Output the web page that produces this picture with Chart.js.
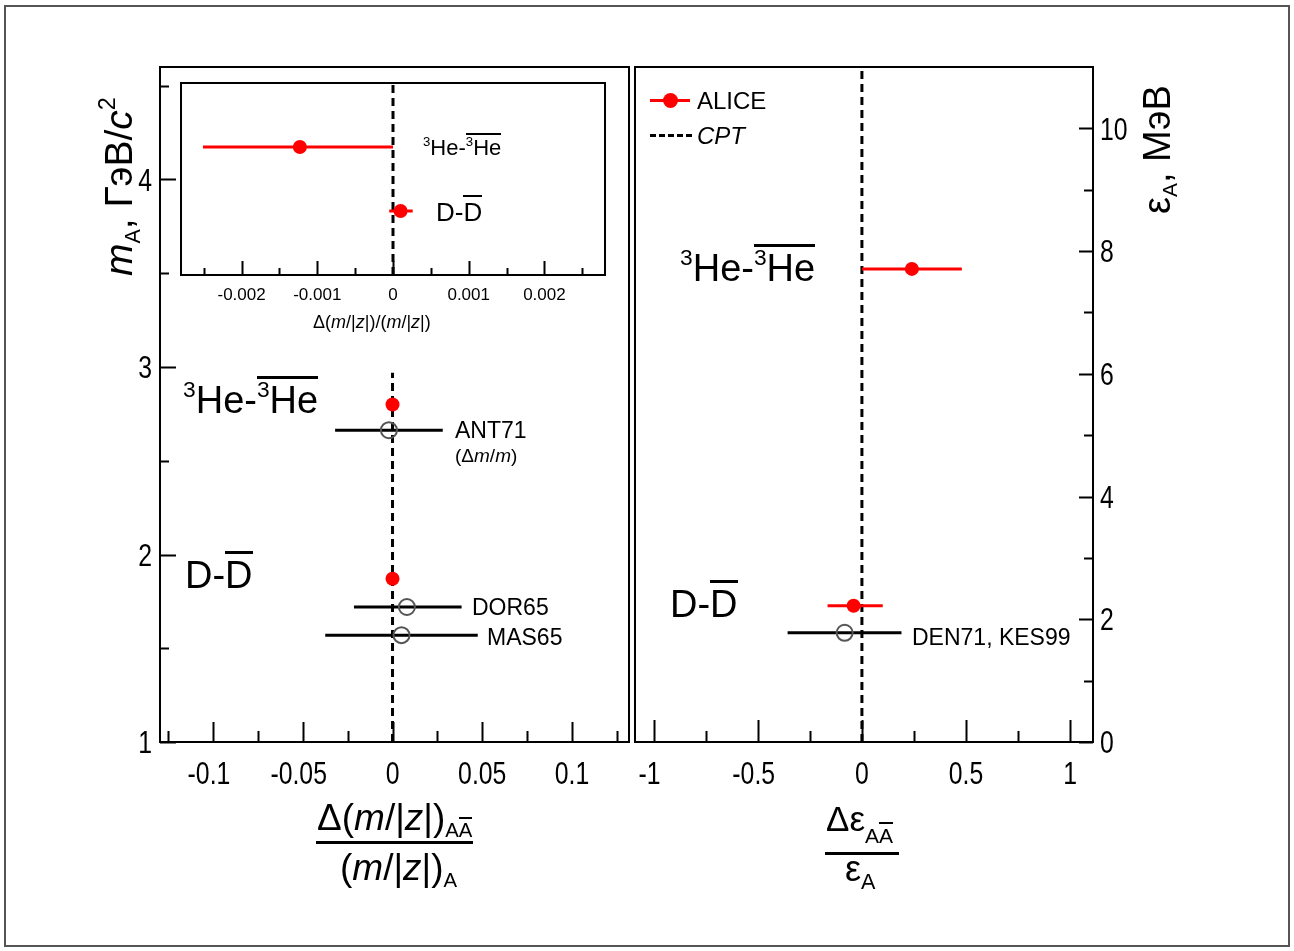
<!DOCTYPE html>
<html>
<head>
<meta charset="utf-8">
<script src="https://cdn.jsdelivr.net/npm/chart.js@4"></script>
<style>
body{margin:0;background:#fff;width:1294px;height:951px;overflow:hidden;position:relative;font-family:"Liberation Sans",Arial,sans-serif;}
#frame{position:absolute;left:4px;top:5px;width:1282px;height:938px;border:2px solid #555;}
canvas{position:absolute;}
.lbl{position:absolute;white-space:nowrap;color:#000;line-height:1;}
.lbl sup{font-size:0.6em;vertical-align:0.72em;line-height:0;}
.lbl sub{font-size:0.55em;vertical-align:-0.35em;line-height:0;}
.ov{border-top:3px solid #000;}
.ovs{border-top:2px solid #000;}
.rot{transform-origin:0 0;transform:rotate(-90deg);}
</style>
</head>
<body>
<div id="frame"></div>
<canvas id="leftChart" width="532" height="740" style="left:100px;top:60px"></canvas>
<canvas id="insetChart" width="445" height="229" style="left:170px;top:76px"></canvas>
<canvas id="rightChart" width="548" height="740" style="left:620px;top:60px"></canvas>

<!-- подписи левой панели -->
<div class="lbl" style="left:183px;top:381px;font-size:38px"><sup>3</sup>He-<span class="ov"><sup>3</sup>He</span></div>
<div class="lbl" style="left:185px;top:556px;font-size:38px">D-<span class="ov">D</span></div>
<div class="lbl" style="left:455px;top:419px;font-size:23px">ANT71</div>
<div class="lbl" style="left:455px;top:446px;font-size:19px">(Δ<i>m</i>/<i>m</i>)</div>
<div class="lbl" style="left:472px;top:596px;font-size:23px">DOR65</div>
<div class="lbl" style="left:487px;top:626px;font-size:23px">MAS65</div>

<!-- подписи вставки -->
<div class="lbl" style="left:423px;top:137px;font-size:22px"><sup>3</sup>He-<span class="ovs"><sup>3</sup>He</span></div>
<div class="lbl" style="left:436px;top:199px;font-size:26px">D-<span class="ovs">D</span></div>
<div class="lbl" style="left:313px;top:313px;font-size:18px">Δ(<i>m</i>/|<i>z</i>|)/(<i>m</i>/|<i>z</i>|)</div>

<!-- подписи правой панели -->
<div class="lbl" style="left:680px;top:249px;font-size:38px"><sup>3</sup>He-<span class="ov"><sup>3</sup>He</span></div>
<div class="lbl" style="left:670px;top:585px;font-size:38px">D-<span class="ov">D</span></div>
<div class="lbl" style="left:912px;top:626px;font-size:23px">DEN71, KES99</div>

<!-- легенда -->
<div style="position:absolute;left:650px;top:99px;width:40px;height:3px;background:#f00"></div>
<div style="position:absolute;left:663px;top:93px;width:15px;height:15px;border-radius:50%;background:#f00"></div>
<div class="lbl" style="left:697px;top:89px;font-size:24px">ALICE</div>
<div style="position:absolute;left:650px;top:134px;width:42px;height:0;border-top:3px dashed #000"></div>
<div class="lbl" style="left:697px;top:124px;font-size:24px"><i>CPT</i></div>

<!-- оси -->
<div class="lbl rot" style="left:99px;top:276px;font-size:39px"><i>m</i><sub>A</sub>, ГэВ/<i>c</i><sup>2</sup></div>
<div class="lbl rot" style="left:1138px;top:214px;font-size:38px">ε<sub>A</sub>, МэВ</div>

<div class="lbl" style="left:317px;top:799px;font-size:37px">Δ(<i>m</i>/|<i>z</i>|)<sub>A<span class="ovs">A</span></sub></div>
<div style="position:absolute;left:316px;top:841px;width:157px;height:3px;background:#000"></div>
<div class="lbl" style="left:340px;top:849px;font-size:37px">(<i>m</i>/|<i>z</i>|)<sub>A</sub></div>

<div class="lbl" style="left:826px;top:801px;font-size:35px">Δε<sub style="font-size:0.6em;vertical-align:-0.55em">A<span class="ovs">A</span></sub></div>
<div style="position:absolute;left:825px;top:852px;width:74px;height:3px;background:#000"></div>
<div class="lbl" style="left:845px;top:851px;font-size:36px">ε<sub style="font-size:0.6em">A</sub></div>

<script>
// левая панель: Δ(m/|z|)/(m/|z|) по массе ядра
var aliceMassX = [0.0, 0.0];
var aliceMassY = [2.80, 1.871];

// старые измерения (ANT71, DOR65, MAS65)
var refMassX = [-0.002, 0.008, 0.005];
var refMassLo = [-0.032, -0.0215, -0.0375];
var refMassHi = [0.028, 0.0385, 0.0475];
var refMassY = [2.663, 1.72, 1.57];

// вставка: ALICE крупно (3He, D)
var insetX = [-0.00123, 0.0001];
var insetLo = [-0.00251, -0.00005];
var insetHi = [0.0, 0.00026];
var insetY = [2, 1];

// правая панель: Δε/ε по энергии связи
var aliceEpsX = [0.24, -0.04];
var aliceEpsLo = [0.0, -0.165];
var aliceEpsHi = [0.48, 0.10];
var aliceEpsY = [7.71, 2.22];

// DEN71, KES99
var refEpsX = [-0.083];
var refEpsLo = [-0.357];
var refEpsHi = [0.19];
var refEpsY = [1.78];

// деления осей
var leftXTicks = [-0.1, -0.05, 0, 0.05, 0.1];
var leftXMinor = [-0.125, -0.075, -0.025, 0.025, 0.075, 0.125];
var leftYTicks = [1, 2, 3, 4];
var leftYMinor = [1.5, 2.5, 3.5, 4.5];
var insetXTicks = [-0.002, -0.001, 0, 0.001, 0.002];
var insetXMinor = [-0.0025, -0.0015, -0.0005, 0.0005, 0.0015, 0.0025];
var rightXTicks = [-1, -0.5, 0, 0.5, 1];
var rightXMinor = [-0.75, -0.25, 0.25, 0.75];
var rightYTicks = [0, 2, 4, 6, 8, 10];
var rightYMinor = [1, 3, 5, 7, 9];

var RED = '#ff0000';

function fmt(v) {
    return String(v);
}

// рамка, внутренние засечки и узкие подписи как в ROOT
var rootFrame = {
    id: 'rootFrame',
    beforeDraw: function(chart) {
        var a = chart.chartArea, ctx = chart.ctx;
        ctx.save();
        ctx.fillStyle = '#fff';
        ctx.fillRect(a.left, a.top, a.right - a.left, a.bottom - a.top);
        ctx.restore();
    },
    afterDraw: function(chart, args, o) {
        var a = chart.chartArea, ctx = chart.ctx;
        var sx = chart.scales.x, sy = chart.scales.y;
        ctx.save();
        ctx.strokeStyle = '#000';
        ctx.lineWidth = 2;
        ctx.beginPath();
        function xt(list, len) {
            list.forEach(function(v) {
                var px = Math.round(sx.getPixelForValue(v)) + 0.5;
                ctx.moveTo(px, a.bottom);
                ctx.lineTo(px, a.bottom - len);
            });
        }
        function yt(list, len) {
            list.forEach(function(v) {
                var py = Math.round(sy.getPixelForValue(v)) + 0.5;
                if (o.ySide == 'left') {
                    ctx.moveTo(a.left, py);
                    ctx.lineTo(a.left + len, py);
                } else {
                    ctx.moveTo(a.right, py);
                    ctx.lineTo(a.right - len, py);
                }
            });
        }
        xt(o.xMajor, o.xLen[0]);
        xt(o.xMinor, o.xLen[1]);
        if (o.ySide) {
            yt(o.yMajor, o.yLen[0]);
            yt(o.yMinor, o.yLen[1]);
        }
        ctx.stroke();
        ctx.strokeRect(a.left, a.top, a.right - a.left, a.bottom - a.top);

        // узкие подписи делений (сжатие по горизонтали)
        if (o.labels) {
            var L = o.labels;
            ctx.fillStyle = '#000';
            ctx.font = L.size + 'px "Liberation Sans", Arial, sans-serif';
            ctx.textBaseline = 'alphabetic';
            o.xMajor.forEach(function(v) {
                var px = sx.getPixelForValue(v);
                var t = fmt(v);
                var w = ctx.measureText(t).width;
                ctx.save();
                ctx.translate(px, a.bottom + L.xBase);
                ctx.scale(L.squeeze, 1);
                // центр по числу без минуса
                var shift = v < 0 ? ctx.measureText('-').width / 2 : 0;
                ctx.fillText(t, -w / 2 - shift, 0);
                ctx.restore();
            });
            o.yMajor.forEach(function(v) {
                var py = sy.getPixelForValue(v);
                var t = fmt(v);
                var w = ctx.measureText(t).width;
                ctx.save();
                if (o.ySide == 'left') {
                    ctx.translate(a.left - L.yPad, py + L.size * 0.36);
                    ctx.scale(L.squeeze, 1);
                    ctx.fillText(t, -w, 0);
                } else {
                    ctx.translate(a.right + L.yPad, py + L.size * 0.36);
                    ctx.scale(L.squeeze, 1);
                    ctx.fillText(t, 0, 0);
                }
                ctx.restore();
            });
        }
        ctx.restore();
    }
};

function noPad(s) {
    s.paddingTop = 0;
    s.paddingBottom = 0;
    s.paddingLeft = 0;
    s.paddingRight = 0;
}

// отрезки ошибок из массивов
function errorBars(xs, lo, hi, ys, color, width) {
    var out = [];
    for (var i = 0; i < xs.length; i++) {
        out.push({
            data: [{x: lo[i], y: ys[i]}, {x: hi[i], y: ys[i]}],
            showLine: true,
            borderColor: color,
            borderWidth: width,
            pointRadius: 0,
            order: 2
        });
    }
    return out;
}

function points(xs, ys) {
    return xs.map(function(x, i) { return {x: x, y: ys[i]}; });
}

function cptLine(y0, y1) {
    return {
        data: [{x: 0, y: y0}, {x: 0, y: y1}],
        showLine: true,
        borderColor: '#000',
        borderWidth: 3,
        borderDash: [8, 5],
        pointRadius: 0,
        order: 3
    };
}

function aliceSet(xs, ys, r) {
    return {
        data: points(xs, ys),
        pointRadius: r,
        pointBackgroundColor: RED,
        pointBorderColor: RED,
        pointBorderWidth: 0,
        order: 0
    };
}

function refSet(xs, ys) {
    return {
        data: points(xs, ys),
        pointRadius: 8,
        pointBackgroundColor: 'rgba(0,0,0,0)',
        pointBorderColor: '#555',
        pointBorderWidth: 2,
        order: 1
    };
}

function xAxis(min, max, ticks, h, labels) {
    return {
        type: 'linear', min: min, max: max,
        grid: {display: false}, border: {display: false},
        afterBuildTicks: function(s) { s.ticks = ticks.map(function(v) { return {value: v}; }); },
        afterFit: function(s) { s.height = h; noPad(s); },
        ticks: labels ? {display: true, font: {family: '"Liberation Sans", sans-serif', size: 17},
                         color: '#000', padding: 2, maxRotation: 0, autoSkip: false, callback: fmt}
                      : {display: false}
    };
}

function yAxis(min, max, ticks, pos, w, show) {
    return {
        type: 'linear', position: pos, min: min, max: max, display: show,
        grid: {display: false}, border: {display: false},
        afterBuildTicks: function(s) { s.ticks = ticks.map(function(v) { return {value: v}; }); },
        afterFit: function(s) { s.width = w; noPad(s); },
        ticks: {display: false}
    };
}

var common = {
    responsive: false,
    animation: false,
    events: [],
    plugins: {legend: {display: false}, tooltip: {enabled: false}}
};

// левая панель
new Chart(document.getElementById('leftChart'), {
    type: 'scatter',
    data: {
        datasets: [
            aliceSet(aliceMassX, aliceMassY, 7),
            refSet(refMassX, refMassY)
        ].concat(errorBars(refMassX, refMassLo, refMassHi, refMassY, '#000', 3))
         .concat([cptLine(1, 2.97)])
    },
    options: Object.assign({}, common, {
        layout: {autoPadding: false, padding: {top: 7, right: 3, left: 0, bottom: 0}},
        scales: {
            x: xAxis(-0.1296, 0.1318, leftXTicks, 58, false),
            y: yAxis(1, 4.6, leftYTicks, 'left', 60, true)
        },
        plugins: Object.assign({}, common.plugins, {
            rootFrame: {xMajor: leftXTicks, xMinor: leftXMinor, xLen: [20, 11],
                        yMajor: leftYTicks, yMinor: leftYMinor, yLen: [16, 9], ySide: 'left',
                        labels: {size: 31, squeeze: 0.8, xBase: 42, yPad: 8}}
        })
    }),
    plugins: [rootFrame]
});

// вставка
new Chart(document.getElementById('insetChart'), {
    type: 'scatter',
    data: {
        datasets: [aliceSet(insetX, insetY, 7)]
            .concat(errorBars(insetX, insetLo, insetHi, insetY, RED, 3))
            .concat([cptLine(0, 3)])
    },
    options: Object.assign({}, common, {
        layout: {autoPadding: false, padding: {top: 7, right: 10, left: 11, bottom: 0}},
        scales: {
            x: xAxis(-0.0028, 0.0028, insetXTicks, 30, true),
            y: yAxis(0, 3, [], 'left', 0, false)
        },
        plugins: Object.assign({}, common.plugins, {
            rootFrame: {xMajor: insetXTicks, xMinor: insetXMinor, xLen: [14, 7],
                        yMajor: [], yMinor: [], yLen: [0, 0], ySide: null}
        })
    }),
    plugins: [rootFrame]
});

// правая панель
new Chart(document.getElementById('rightChart'), {
    type: 'scatter',
    data: {
        datasets: [
            aliceSet(aliceEpsX, aliceEpsY, 7),
            refSet(refEpsX, refEpsY)
        ].concat(errorBars(aliceEpsX, aliceEpsLo, aliceEpsHi, aliceEpsY, RED, 3))
         .concat(errorBars(refEpsX, refEpsLo, refEpsHi, refEpsY, '#000', 3))
         .concat([cptLine(0, 11)])
    },
    options: Object.assign({}, common, {
        layout: {autoPadding: false, padding: {top: 7, right: 0, left: 15, bottom: 0}},
        scales: {
            x: xAxis(-1.09, 1.11, rightXTicks, 58, false),
            y: yAxis(0, 11, rightYTicks, 'right', 75, true)
        },
        plugins: Object.assign({}, common.plugins, {
            rootFrame: {xMajor: rightXTicks, xMinor: rightXMinor, xLen: [22, 11],
                        yMajor: rightYTicks, yMinor: rightYMinor, yLen: [14, 9], ySide: 'right',
                        labels: {size: 31, squeeze: 0.8, xBase: 42, yPad: 7}}
        })
    }),
    plugins: [rootFrame]
});
</script>
</body>
</html>
